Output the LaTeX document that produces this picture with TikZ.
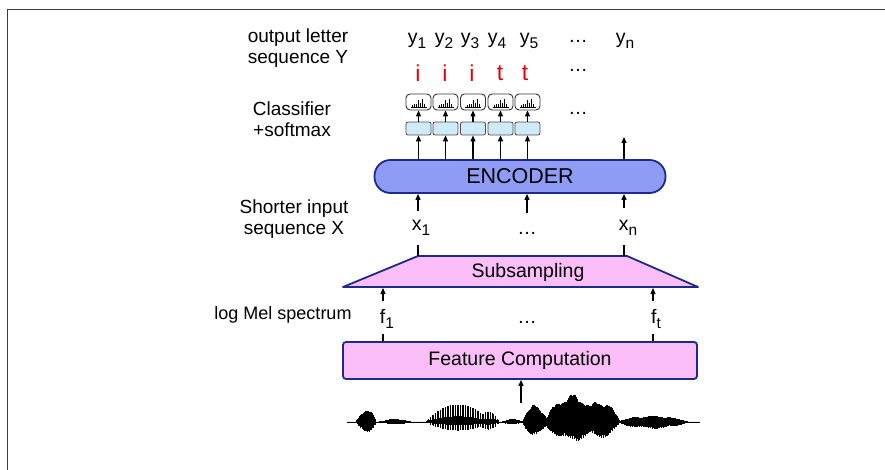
\documentclass[tikz,border=0pt]{standalone}
\usepackage{fontspec}
\setmainfont{Liberation Sans}
\usetikzlibrary{arrows.meta,shapes,positioning}

\definecolor{encblue}{HTML}{8E9CF6}
\definecolor{edgeblue}{HTML}{1C2A8A}
\definecolor{stagepink}{HTML}{FBBEF8}
\definecolor{clsblue}{HTML}{CFEAF8}
\definecolor{letterred}{HTML}{E3000B}
\definecolor{framegray}{HTML}{3A3A3A}

% symbol with a lowered index
\newcommand{\idx}[2]{#1\raisebox{-5pt}{\fontsize{15.5}{15.5}\selectfont #2}}

% envelope bump for the waveform
\pgfmathdeclarefunction{bump}{3}{\pgfmathparse{max(0,1-((#1-#2)/#3)*((#1-#2)/#3))}}

\begin{document}
\begin{tikzpicture}[x=1pt, y=-1pt, >={Triangle[length=6pt,width=5pt]},
  every node/.style={font=\fontsize{19.5}{21.5}\selectfont, inner sep=0pt},
  side label/.style={align=center, font=\fontsize{19}{21.5}\selectfont},
  red letter/.style={text=letterred, font=\fontsize{23}{23}\selectfont},
  hist box/.style={draw=black!80, line width=0.9pt, fill=white, rounded corners=4pt,
    minimum width=25pt, minimum height=16pt},
  cls box/.style={draw=black!70, line width=0.8pt, fill=clsblue, rounded corners=2pt,
    minimum width=25pt, minimum height=13pt},
  stage/.style={draw=edgeblue, line width=1.8pt, fill=stagepink},
  link/.style={line width=1.1pt}]

  \useasboundingbox (0,0) rectangle (885,470);
  % frame
  \draw[framegray, line width=1.6pt] (7.5,470) -- (7.5,9.5) -- (885,9.5);

  % left labels
  \node[side label] (outlbl) at (298,48) {output letter\\sequence Y};
  \node[side label] (clslbl) at (292,119) {Classifier\\+softmax};
  \node[side label] (xlbl) at (294,219) {Shorter input\\sequence X};
  \node[side label, font=\fontsize{18}{21}\selectfont] (flbl) at (283,315) {log Mel spectrum};

  % outputs
  \foreach \i/\x in {1/417,2/444,3/470,4/497,5/529}
    \node (y\i) at (\x,41) {\idx{y}{\i}};
  \node (ydots) at (578,41) {\ldots};
  \node (yn) at (625,41) {\idx{y}{n}};

  \foreach \i/\x/\c in {1/418/i,2/445/i,3/472/i,4/500/t,5/525/t}
    \node[red letter] (l\i) at (\x,73) {\c};
  \node (ldots) at (578,70) {\ldots};

  % classifier + softmax
  \foreach \i/\x in {1/418.5,2/445.5,3/473,4/500.5,5/527.5} {
    \node[hist box] (h\i) at (\x,102) {};
    \node[cls box] (c\i) at (\x,128.5) {};
    \draw[line width=0.7pt] ([shift={(-8,-3.5)}]h\i.south) -- ++(16,0);
    \foreach \dx/\hh in {-6/2,-4/3,-2/3,0/7,2/4,4/8,6/3}
      \draw[line width=0.9pt] ([shift={(\dx,-3.5)}]h\i.south) -- ++(0,-\hh);
    \draw[link,->] (c\i) -- (h\i);
  }
  \node (cdots) at (578,113) {\ldots};

  % encoder
  \node[draw=edgeblue, line width=1.8pt, fill=encblue, rounded corners=16pt,
    minimum width=291pt, minimum height=33pt, font=\fontsize{21.5}{21.5}\selectfont]
    (enc) at (520,176.5) {ENCODER};
  \foreach \i in {1,...,5}
    \draw[link,->] (enc.north -| c\i) -- (c\i.south);
  \coordinate (ntop) at (624,137);
  \draw[link,->] (enc.north -| ntop) -- (ntop);

  % shorter input sequence
  \node (x1) at (421,228) {\idx{x}{1}};
  \node (xdots) at (527,233) {\ldots};
  \node (xn) at (628,228) {\idx{x}{n}};
  \coordinate (x1in) at (418,211);
  \coordinate (xmin) at (527,213);
  \coordinate (xnin) at (624,208);
  \foreach \c in {x1in,xmin,xnin}
    \draw[link,->] (\c) -- (\c |- enc.south);

  % subsampling
  \coordinate (subtl) at (418,256);
  \coordinate (subtr) at (627,256);
  \draw[stage, line join=round] (343,287) -- (subtl) -- (subtr) -- (698,287) -- cycle;
  \node (sub) at (528,272) {Subsampling};
  \draw[link] (subtl) -- ++(0,-11);
  \draw[link] (624,256) -- ++(0,-11);

  % log Mel spectrum
  \node (f1) at (387,319) {\idx{f}{1}};
  \node (fdots) at (527,322) {\ldots};
  \node (ft) at (656,319) {\idx{f}{t}};
  \coordinate (f1up) at (383,301);
  \coordinate (ftup) at (653,301);
  \draw[link,->] (f1up) -- (383,288);
  \draw[link,->] (ftup) -- (653,288);

  % feature computation
  \node[stage, rounded corners=3pt, minimum width=354pt, minimum height=37pt]
    (feat) at (520,360.5) {Feature Computation};
  \draw[link] (feat.north -| f1up) -- ++(0,-7);
  \draw[link] (feat.north -| ftup) -- ++(0,-7);

  % waveform
  \coordinate (wavetop) at (521,403);
  \draw[link,->] (wavetop) -- (feat.south -| wavetop);
  \draw[line width=0.9pt] (347,422) -- (700,422);
  \foreach \k in {0,...,704} {
    \pgfmathsetmacro\x{347.5+0.5*\k}
    \pgfmathsetmacro\nz{(0.62+0.38*abs(sin(mod(\k,37)*97.3)))*(0.87+0.13*sin(\k*9))}
    \pgfmathsetmacro\nzb{(0.62+0.38*abs(cos(mod(\k,29)*131.1)))*(0.87+0.13*cos(\k*7))}
    \pgfmathsetmacro\st{(mod(\k,5)<2) ? 1 : 0.3}
    \pgfmathsetmacro\up{max(13*bump(\x,366,10),2.5*bump(\x,395,16),2.5*bump(\x,512,10),
      17*bump(\x,535,13),28*bump(\x,572,28),22*bump(\x,600,20),6*bump(\x,652,36))*\nz
      +max(17*bump(\x,458,32),10*bump(\x,488,11))*\st+0.5}
    \pgfmathsetmacro\dn{max(11*bump(\x,366,10),2*bump(\x,395,16),2*bump(\x,512,10),
      14*bump(\x,535,13),19*bump(\x,572,30),16*bump(\x,600,20),6.5*bump(\x,652,36))*\nzb
      +max(8*bump(\x,458,32),7*bump(\x,488,11))*\st+0.5}
    \draw[line width=0.8pt] (\x,422-\up) -- (\x,422+\dn);
  }
\end{tikzpicture}
\end{document}
